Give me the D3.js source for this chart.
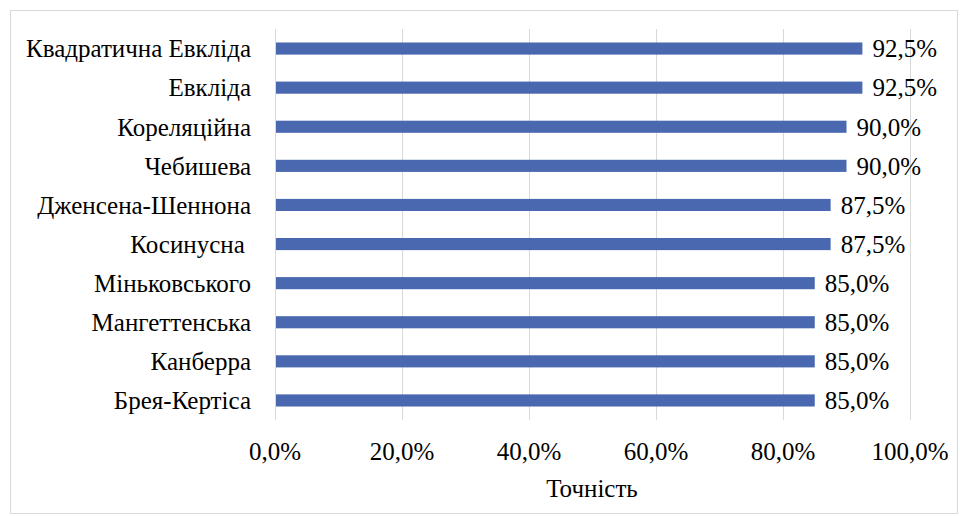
<!DOCTYPE html>
<html><head><meta charset="utf-8">
<script src="https://cdn.jsdelivr.net/npm/d3@7"></script>
<style>
body{margin:0;background:#fff;}
</style></head>
<body><svg id="c" width="960" height="516"></svg>
<script>
const categories = ["Квадратична Евкліда","Евкліда","Кореляційна","Чебишева","Дженсена-Шеннона","Косинусна ","Міньковського","Мангеттенська","Канберра","Брея-Кертіса"];
const values = [0.925,0.925,0.90,0.90,0.875,0.875,0.85,0.85,0.85,0.85];
const ticks = [0,0.2,0.4,0.6,0.8,1.0];
const axisTitle = "Точність";

const FONT = "Liberation Serif";
const FS = 25;
const svg = d3.select("#c");
svg.append("rect").attr("x",10.5).attr("y",10.5).attr("width",947).attr("height",503)
  .attr("fill","#fff").attr("stroke","#d9d9d9").attr("stroke-width",1);

const x = d3.scaleLinear().domain([0,1]).range([275,910]);
const y = d3.scaleBand().domain(categories).range([29,420]).paddingInner(0.69).paddingOuter(0.345);
const fmt = v => d3.format(".1f")(v*100).replace(".",",")+"%";
const styleText = s => s.attr("font-family",FONT).style("font-family",FONT).attr("font-size",FS).attr("fill","#000");

svg.append("g").selectAll("line").data(ticks).join("line")
  .attr("x1",d=>Math.round(x(d))+0.5).attr("x2",d=>Math.round(x(d))+0.5)
  .attr("y1",29).attr("y2",420).attr("stroke","#d9d9d9").attr("stroke-width",1);

svg.append("g").selectAll("rect").data(values).join("rect")
  .attr("x",x(0)+1).attr("y",(d,i)=>y(categories[i]))
  .attr("width",d=>x(d)-x(0)-1).attr("height",y.bandwidth())
  .attr("fill","#4968b0");

svg.append("g").selectAll("text").data(values).join("text")
  .attr("x",d=>x(d)+10).attr("y",(d,i)=>y(categories[i])+y.bandwidth()/2)
  .attr("dy","0.35em").call(styleText).text(d=>fmt(d));

svg.append("g").selectAll("text").data(categories).join("text")
  .attr("x",251).attr("y",d=>y(d)+y.bandwidth()/2).attr("dy","0.35em")
  .attr("text-anchor","end").call(styleText).style("white-space","pre").text(d=>d);

svg.append("g").selectAll("text").data(ticks).join("text")
  .attr("x",d=>x(d)).attr("y",460).attr("text-anchor","middle").call(styleText)
  .text(d=>fmt(d));

svg.append("text").attr("x",592).attr("y",497).attr("text-anchor","middle")
  .call(styleText).text(axisTitle);
</script></body></html>
